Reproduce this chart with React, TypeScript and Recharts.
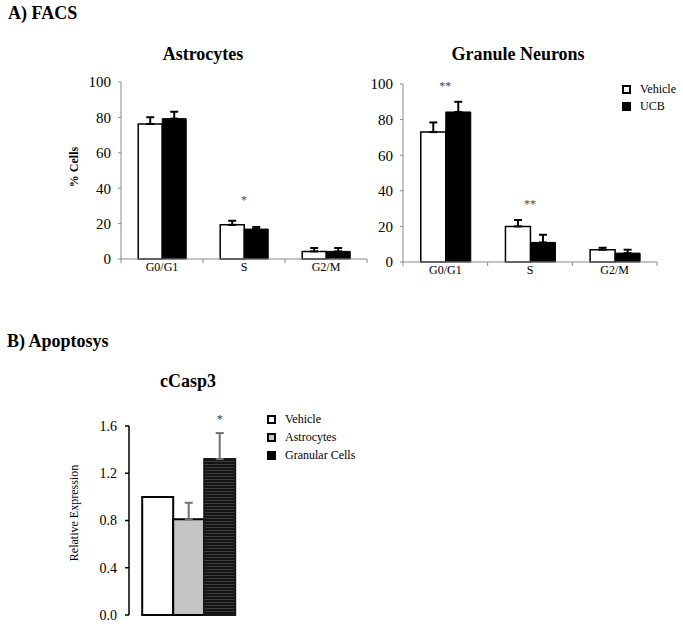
import React from 'react';
import { BarChart, Bar, XAxis, YAxis, ErrorBar, ReferenceDot, Legend, LabelList } from 'recharts';

const SERIF = "'Liberation Serif', 'Times New Roman', serif";
const AXIS_GRAY = '#8a8a8a';

// ---------- A) FACS ----------
const phases = ['G0/G1', 'S', 'G2/M'];
const pctTicks = [0, 20, 40, 60, 80, 100];

const astroVehicle = [76.3, 19.3, 4.3];
const astroVehicleErr = [3.8, 2.3, 1.9];
const astroUcb = [79.3, 16.9, 4.3];
const astroUcbErr = [3.9, 1.2, 1.9];
const astroSig = ['', '*', ''];

const neuronVehicle = [73.0, 20.0, 6.9];
const neuronVehicleErr = [5.4, 3.6, 1.1];
const neuronUcb = [84.3, 11.0, 5.0];
const neuronUcbErr = [5.7, 4.3, 1.9];
const neuronSig = ['**', '**', ''];

// ---------- B) Apoptosys ----------
const caspGroups = ['cCasp3'];
const caspVehicle = [1.0];
const caspAstro = [0.81];
const caspAstroErr = [0.14];
const caspGranular = [1.32];
const caspGranularErr = [0.22];
const caspSig = ['*'];
const relTicks = [0, 0.4, 0.8, 1.2, 1.6];

const seriesOrder = ['vehicle', 'ucb', 'astro', 'granular'];

function buildFacs(veh: number[], vehErr: number[], ucb: number[], ucbErr: number[], sig: string[], sigGap: number) {
  return phases.map((p, i) => ({
    phase: p,
    vehicle: veh[i],
    vehicleErr: [0, vehErr[i]],
    ucb: ucb[i],
    ucbErr: [0, ucbErr[i]],
    sig: sig[i],
    sigY: Math.max(veh[i] + vehErr[i], ucb[i] + ucbErr[i]) + sigGap,
  }));
}

const astroRows = buildFacs(astroVehicle, astroVehicleErr, astroUcb, astroUcbErr, astroSig, 13);
const neuronRows = buildFacs(neuronVehicle, neuronVehicleErr, neuronUcb, neuronUcbErr, neuronSig, 10);

const caspRows = caspGroups.map((g, i) => ({
  group: g,
  vehicle: caspVehicle[i],
  astro: caspAstro[i],
  astroErr: [0, caspAstroErr[i]],
  granular: caspGranular[i],
  granularErr: [0, caspGranularErr[i]],
  granErrVal: caspGranularErr[i],
  sig: caspSig[i],
}));

const PhaseTick = (props: any) => {
  const { x, y, payload, index, band, count } = props;
  const half = band / 2;
  return (
    <g>
      <line x1={x - half} x2={x - half} y1={y} y2={y + 4} stroke={AXIS_GRAY} strokeWidth={1} />
      {index === count - 1 && (
        <line x1={x + half} x2={x + half} y1={y} y2={y + 4} stroke={AXIS_GRAY} strokeWidth={1} />
      )}
      <text x={x} y={y + 12} textAnchor="middle" fontSize={12} fontFamily={SERIF} fill="#000">
        {payload.value}
      </text>
    </g>
  );
};

const sigShape = (label: string) => (p: any) => (
  <text x={p.cx} y={p.cy + 6} textAnchor="middle" fontSize={12} fontFamily={SERIF} fill="#444">
    {label}
  </text>
);

const swatchStyle: Record<string, React.CSSProperties> = {
  vehicle: { background: '#fff', border: '2px solid #000' },
  ucb: { background: '#000', border: '2px solid #000' },
  astro: { background: '#c4c4c4', border: '2px solid #000' },
  granular: { background: '#000', border: '2px solid #000' },
};

const legendSorter = (item: any) => seriesOrder.indexOf(String(item.dataKey));

const makeLegend = (rowH: number) => (props: any) => {
  const payload = [...(props.payload || [])].sort(
    (a: any, b: any) => seriesOrder.indexOf(String(a.dataKey)) - seriesOrder.indexOf(String(b.dataKey))
  );
  return (
    <div style={{ fontFamily: SERIF, fontSize: 12, color: '#000' }}>
      {payload.map((e: any) => (
        <div key={String(e.dataKey)} style={{ display: 'flex', alignItems: 'center', height: rowH }}>
          <div style={{ width: 9, height: 9, boxSizing: 'border-box', ...(swatchStyle[String(e.dataKey)] || {}) }} />
          <span style={{ marginLeft: 9 }}>{e.value}</span>
        </div>
      ))}
    </div>
  );
};

type FacsProps = {
  rows: any[];
  width: number;
  height: number;
  margin: { top: number; right: number; bottom: number; left: number };
  legend?: { top: number; left: number };
};

const Y_AXIS_W = 60;
const X_AXIS_H = 30;

const FacsChart = ({ rows, width, height, margin, legend }: FacsProps) => {
  const plotW = width - margin.left - margin.right - Y_AXIS_W;
  const band = plotW / rows.length;
  return (
    <BarChart width={width} height={height} data={rows} margin={margin} barCategoryGap="21%" barGap={0}>
      <XAxis
        dataKey="phase"
        height={X_AXIS_H}
        axisLine={{ stroke: AXIS_GRAY, strokeWidth: 1 }}
        tickLine={false}
        tickSize={0}
        tickMargin={0}
        interval={0}
        tick={(p: any) => <PhaseTick {...p} band={band} count={rows.length} />}
      />
      <YAxis
        width={Y_AXIS_W}
        domain={[0, 100]}
        ticks={pctTicks}
        interval={0}
        axisLine={{ stroke: AXIS_GRAY, strokeWidth: 1 }}
        tickLine={{ stroke: AXIS_GRAY }}
        tickSize={3}
        tickMargin={7}
        tick={{ fontSize: 15, fill: '#000', fontFamily: SERIF }}
      />
      <Bar dataKey="vehicle" name="Vehicle" fill="#fff" stroke="#000" strokeWidth={1.5} isAnimationActive={false}>
        <ErrorBar dataKey="vehicleErr" width={4} strokeWidth={2} stroke="#000" direction="y" />
      </Bar>
      <Bar dataKey="ucb" name="UCB" fill="#000" stroke="#000" strokeWidth={1} isAnimationActive={false}>
        <ErrorBar dataKey="ucbErr" width={4} strokeWidth={2} stroke="#000" direction="y" />
      </Bar>
      {rows
        .filter((r) => r.sig)
        .map((r) => (
          <ReferenceDot key={r.phase} x={r.phase} y={r.sigY} r={0} ifOverflow="visible" shape={sigShape(r.sig)} />
        ))}
      {legend && (
        <Legend
          layout="vertical"
          align="center"
          verticalAlign="middle"
          itemSorter={legendSorter}
          wrapperStyle={{ top: legend.top, left: legend.left, width: 'auto' }}
          content={makeLegend(17)}
        />
      )}
    </BarChart>
  );
};

const CaspChart = () => {
  const width = 400;
  const height = 249;
  const margin = { top: 46, right: 151, bottom: 14, left: 69 };
  return (
    <BarChart width={width} height={height} data={caspRows} margin={margin} barCategoryGap="11%" barGap={0}>
      <defs>
        <pattern id="hatchDark" width="4" height="3" patternUnits="userSpaceOnUse">
          <rect width="4" height="3" fill="#141414" />
          <line x1="0" y1="0.5" x2="4" y2="0.5" stroke="#3c3c3c" strokeWidth="1" />
        </pattern>
      </defs>
      <XAxis dataKey="group" hide />
      <YAxis
        width={Y_AXIS_W}
        domain={[0, 1.6]}
        ticks={relTicks}
        interval={0}
        axisLine={{ stroke: '#000', strokeWidth: 1.5 }}
        tickLine={{ stroke: '#000', strokeWidth: 1.5 }}
        tickSize={4}
        tickMargin={8}
        tickFormatter={(v: number) => v.toFixed(1)}
        tick={{ fontSize: 14, fill: '#000', fontFamily: SERIF }}
      />
      <Bar dataKey="vehicle" name="Vehicle" fill="#fff" stroke="#000" strokeWidth={2} isAnimationActive={false} />
      <Bar dataKey="astro" name="Astrocytes" fill="#c4c4c4" stroke="#000" strokeWidth={2} isAnimationActive={false}>
        <ErrorBar dataKey="astroErr" width={4} strokeWidth={2} stroke="#707070" direction="y" />
      </Bar>
      <Bar dataKey="granular" name="Granular Cells" fill="url(#hatchDark)" stroke="#1a1a1a" strokeWidth={2} isAnimationActive={false}>
        <ErrorBar dataKey="granularErr" width={4} strokeWidth={2} stroke="#707070" direction="y" />
        <LabelList
          dataKey="sig"
          content={(p: any) => {
            const row = caspRows[p.index ?? 0];
            const x = Number(p.x);
            const y = Number(p.y);
            const w = Number(p.width);
            const h = Number(p.height);
            const errTop = y - (row.granErrVal * h) / row.granular;
            return (
              <text x={x + w / 2} y={errTop - 10} textAnchor="middle" fontSize={12} fontFamily={SERIF} fill="#333">
                {p.value}
              </text>
            );
          }}
        />
      </Bar>
      <Legend
        layout="vertical"
        align="center"
        verticalAlign="middle"
        itemSorter={legendSorter}
        wrapperStyle={{ top: 30, left: 267, width: 'auto' }}
        content={makeLegend(18)}
      />
    </BarChart>
  );
};

export default function App() {
  return (
    <div style={{ position: 'absolute', left: 0, top: 0, width: 683, height: 629, background: '#fff', fontFamily: SERIF, overflow: 'hidden' }}>
      <div style={{ position: 'absolute', left: 0, top: 0 }}>
        <FacsChart rows={astroRows} width={380} height={290} margin={{ top: 82, right: 13, bottom: 1, left: 61 }} />
      </div>
      <div style={{ position: 'absolute', left: 330, top: 0 }}>
        <FacsChart
          rows={neuronRows}
          width={353}
          height={300}
          margin={{ top: 84, right: 26, bottom: 8, left: 13 }}
          legend={{ top: 81, left: 292 }}
        />
      </div>
      <div style={{ position: 'absolute', left: 0, top: 380 }}>
        <CaspChart />
      </div>
      <svg width={683} height={629} style={{ position: 'absolute', left: 0, top: 0, pointerEvents: 'none' }}>
        <g fontFamily={SERIF} fill="#000">
          <text x={8} y={19} fontSize={18} fontWeight="bold">A) FACS</text>
          <text x={203} y={60} fontSize={18} fontWeight="bold" textAnchor="middle">Astrocytes</text>
          <text x={518} y={60} fontSize={18} fontWeight="bold" textAnchor="middle">Granule Neurons</text>
          <text transform="translate(78,167) rotate(-90)" fontSize={12} fontWeight="bold" textAnchor="middle">% Cells</text>
          <text x={7} y={347} fontSize={18} fontWeight="bold">B) Apoptosys</text>
          <text x={188} y={387} fontSize={18} fontWeight="bold" textAnchor="middle">cCasp3</text>
          <text transform="translate(78,513) rotate(-90)" fontSize={12} textAnchor="middle">Relative Expression</text>
        </g>
      </svg>
    </div>
  );
}
